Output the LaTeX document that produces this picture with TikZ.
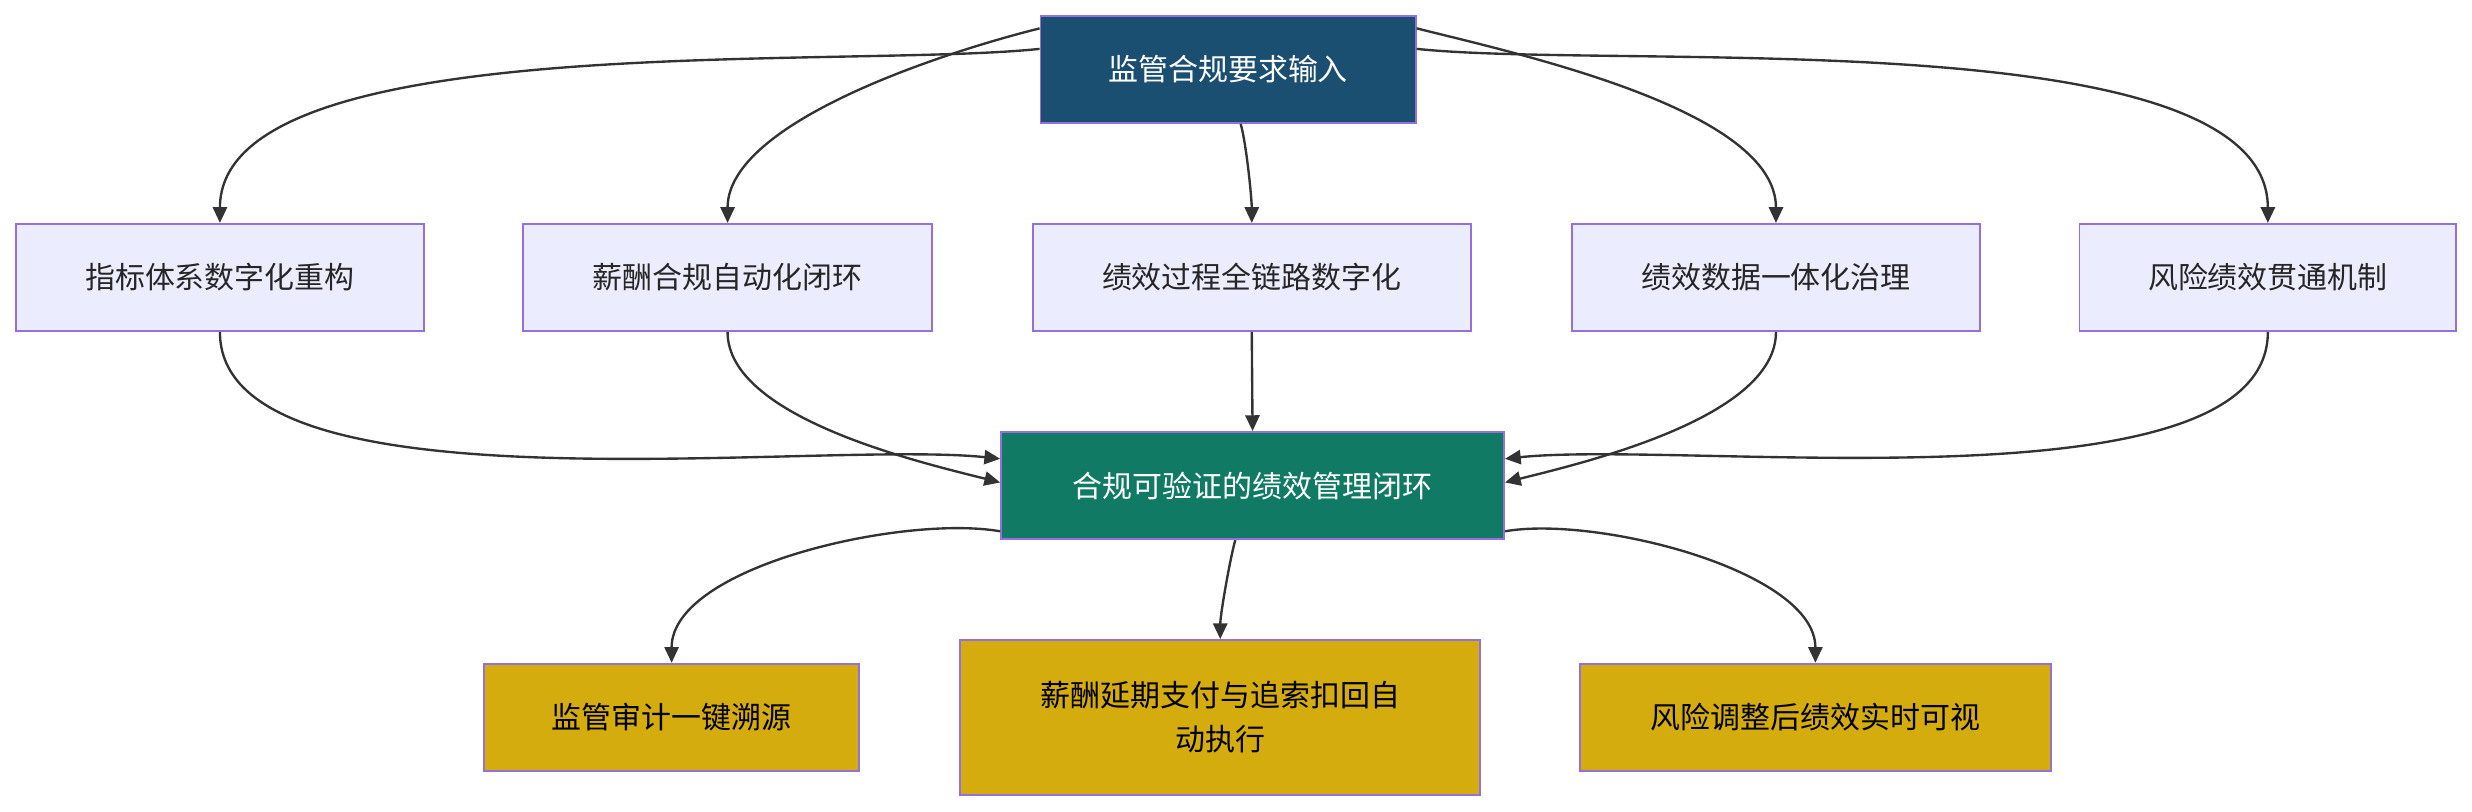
\documentclass[tikz,border=0pt]{standalone}
\usepackage{fontspec}
\setmainfont{Noto Sans CJK SC}
\usetikzlibrary{arrows.meta}
\definecolor{topc}{HTML}{1B4F72}
\definecolor{midc}{HTML}{117A65}
\definecolor{botc}{HTML}{D4AC0D}
\definecolor{boxc}{HTML}{ECECFF}
\definecolor{bordc}{HTML}{9370DB}
\definecolor{linec}{HTML}{333333}
\tikzset{
 base/.style={draw=bordc,line width=1.2pt,inner sep=0pt,align=center,font=\fontsize{19}{28}\selectfont},
 mbox/.style={base,fill=boxc,text=black!85},
 tbox/.style={base,fill=topc,text=white},
 gbox/.style={base,fill=midc,text=white},
 ybox/.style={base,fill=botc,text=black},
 con/.style={draw=linec,line width=1.5pt,-{Triangle[length=10pt,width=9pt]}}
}
\begin{document}
\begin{tikzpicture}[x=1pt,y=-1pt]
\useasboundingbox (0,0) rectangle (1568,515);
\newcommand\bx[6]{\node[#1,minimum width=#4-#3,minimum height=#6-#5] (#2) at ({(#3+#4)/2},{(#5+#6)/2})}
\bx{tbox}{top}{660}{898}{10}{78} {监管合规要求输入};
\bx{mbox}{b1}{10}{269}{142}{210} {指标体系数字化重构};
\bx{mbox}{b2}{332}{591}{142}{210} {薪酬合规自动化闭环};
\bx{mbox}{b3}{655}{933}{142}{210} {绩效过程全链路数字化};
\bx{mbox}{b4}{997}{1256}{142}{210} {绩效数据一体化治理};
\bx{mbox}{b5}{1319}{1558}{142}{210} {风险绩效贯通机制};
\bx{gbox}{mid}{635}{954}{274}{342} {合规可验证的绩效管理闭环};
\bx{ybox}{c1}{307}{545}{421}{489} {监管审计一键溯源};
\bx{ybox}{c2}{609}{939}{406}{504} {薪酬延期支付与追索扣回自\\动执行};
\bx{ybox}{c3}{1002}{1301}{421}{489} {风险调整后绩效实时可视};
\draw[con] ([yshift=13pt]top.west) to[out=186,in=90,looseness=0.6] (b1.north);
\draw[con] ([yshift=26pt]top.west) to[out=194,in=90,looseness=0.7] (b2.north);
\draw[con] ([xshift=8pt]top.south) to[out=-75,in=90,looseness=0.6] (b3.north);
\draw[con] ([yshift=26pt]top.east) to[out=-14,in=90,looseness=0.7] (b4.north);
\draw[con] ([yshift=13pt]top.east) to[out=-6,in=90,looseness=0.6] (b5.north);
\draw[con] (b1.south) to[out=-90,in=174,looseness=0.6] ([yshift=17pt]mid.west);
\draw[con] (b2.south) to[out=-90,in=166,looseness=0.7] ([yshift=2pt]mid.west);
\draw[con] (b3.south) -- (mid.north);
\draw[con] (b4.south) to[out=-90,in=14,looseness=0.7] ([yshift=2pt]mid.east);
\draw[con] (b5.south) to[out=-90,in=6,looseness=0.6] ([yshift=17pt]mid.east);
\draw[con] ([yshift=-29pt]mid.west) to[out=170,in=90,looseness=0.7] (c1.north);
\draw[con] ([xshift=-11pt]mid.south) to[out=-105,in=90,looseness=0.6] (c2.north);
\draw[con] ([yshift=-29pt]mid.east) to[out=10,in=90,looseness=0.7] (c3.north);
\end{tikzpicture}
\end{document}
